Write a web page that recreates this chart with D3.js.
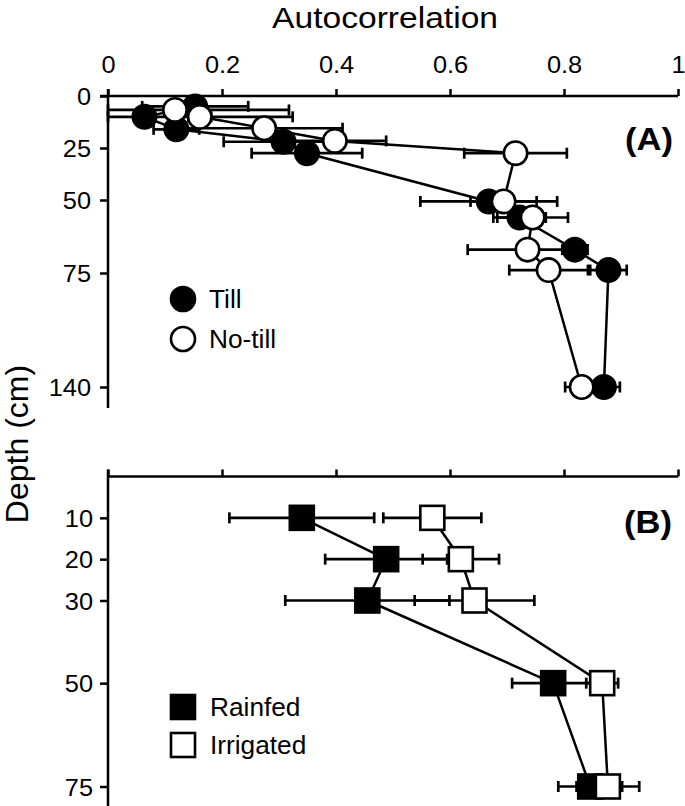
<!DOCTYPE html>
<html><head><meta charset="utf-8">
<script src="https://cdn.jsdelivr.net/npm/d3@7"></script>
<style>body{margin:0;background:#fff} svg{display:block}</style>
</head><body><div id="chart"></div>
<script>
// ---- data ----
const xTicks = [0, 0.2, 0.4, 0.6, 0.8, 1];
const xTickLabels = ["0", "0.2", "0.4", "0.6", "0.8", "1"];

// Panel A
const depthTicksA = [0, 25, 50, 75, 140];
const tillDepth = [5, 10, 16, 22, 27.5, 50.5, 56, 67, 74, 140];
const tillValue = [0.153, 0.064, 0.12, 0.308, 0.349, 0.668, 0.722, 0.819, 0.878, 0.870];
const tillErr = [0.093, 0.26, 0.04, 0.105, 0.097, 0.12, 0.046, 0.022, 0.032, 0.028];
const noTillDepth = [6.7, 10, 15.5, 21.6, 27.5, 50.5, 56, 67, 74, 140];
const noTillValue = [0.1175, 0.161, 0.274, 0.398, 0.715, 0.694, 0.745, 0.736, 0.773, 0.831];
const noTillErr = [0.2, 0.02, 0.1375, 0.09, 0.09, 0.058, 0.062, 0.105, 0.069, 0.029];

// Panel B
const depthTicksB = [10, 20, 30, 50, 75];
const depthB = [10, 20, 30, 50, 75];
const rainfedValue = [0.34, 0.488, 0.455, 0.781, 0.846];
const rainfedErr = [0.127, 0.107, 0.144, 0.072, 0.056];
const irrigatedValue = [0.569, 0.619, 0.643, 0.867, 0.877];
const irrigatedErr = [0.086, 0.067, 0.105, 0.028, 0.055];

// ---- drawing ----
const W = 685, H = 806;
const FONT = "'Liberation Sans', Arial, Helvetica, sans-serif";
const SW = 2.5;
const svg = d3.select("#chart").append("svg").attr("width", W).attr("height", H);

const x = d3.scaleLinear().domain([0, 1]).range([108, 678]);
const yA = d3.scaleLinear().domain(depthTicksA).range([96, 148, 200, 273, 387]);
const yB = d3.scaleLinear().domain([0, 75]).range([476.5, 786.5]);

function stretchText(g, tx, ty, str, size, sx, anchor, weight) {
  return g.append("text")
    .attr("transform", `translate(${tx},${ty}) scale(${sx},1)`)
    .attr("text-anchor", anchor || "start")
    .style("font-family", FONT)
    .style("font-size", size + "px")
    .style("font-weight", weight || "normal")
    .attr("fill", "#000")
    .text(str);
}

function styleAxis(g) {
  g.select(".domain").remove();
  g.selectAll(".tick line").attr("stroke", "#000").attr("stroke-width", SW);
}

// Title
stretchText(svg, x(0.486), 28, "Autocorrelation", 30, 1.12, "middle");

// Depth label
svg.append("text")
  .attr("transform", `translate(28,${444}) rotate(-90)`)
  .attr("text-anchor", "middle")
  .style("font-family", FONT).style("font-size", "32px")
  .text("Depth (cm)");

// ---- Panel A axes ----
const axTopA = svg.append("g").attr("transform", `translate(0,${yA(0)})`)
  .call(d3.axisTop(x).tickValues(xTicks).tickSize(7).tickSizeOuter(0).tickFormat(""));
styleAxis(axTopA);
axTopA.selectAll(".tick").each(function(d, i) {
  stretchText(d3.select(this), 0, -23, xTickLabels[i], 23.5, 1.08, "middle");
});
svg.append("line").attr("x1", x(0) - 8).attr("x2", x(1))
  .attr("y1", yA(0)).attr("y2", yA(0)).attr("stroke", "#000").attr("stroke-width", SW);

const axLeftA = svg.append("g").attr("transform", `translate(${x(0)},0)`)
  .call(d3.axisLeft(yA).tickValues(depthTicksA).tickSize(8).tickFormat(""));
styleAxis(axLeftA);
axLeftA.selectAll(".tick").each(function(d) {
  stretchText(d3.select(this), -17, 8.5, String(d), 23.5, 1.08, "end");
});
svg.append("line").attr("x1", x(0)).attr("x2", x(0))
  .attr("y1", yA(0) - 7).attr("y2", yA(140) + 21).attr("stroke", "#000").attr("stroke-width", SW);

// ---- Panel B axes ----
const axTopB = svg.append("g").attr("transform", `translate(0,${yB(0)})`)
  .call(d3.axisTop(x).tickValues(xTicks).tickSize(7).tickSizeOuter(0).tickFormat(""));
styleAxis(axTopB);
svg.append("line").attr("x1", x(0)).attr("x2", x(1))
  .attr("y1", yB(0)).attr("y2", yB(0)).attr("stroke", "#000").attr("stroke-width", SW);

const axLeftB = svg.append("g").attr("transform", `translate(${x(0)},0)`)
  .call(d3.axisLeft(yB).tickValues(depthTicksB).tickSize(8).tickFormat(""));
styleAxis(axLeftB);
axLeftB.selectAll(".tick").each(function(d) {
  stretchText(d3.select(this), -15, 8.5, String(d), 23.5, 1.08, "end");
});
svg.append("line").attr("x1", x(0)).attr("x2", x(0))
  .attr("y1", yB(0) - 7).attr("y2", H).attr("stroke", "#000").attr("stroke-width", SW);

// Panel labels
stretchText(svg, 673, 150, "(A)", 32, 1.08, "end", "bold");
stretchText(svg, 672, 533, "(B)", 32, 1.08, "end", "bold");

// ---- series helpers ----
function build(depths, values, errs) {
  return depths.map((d, i) => ({ d, v: values[i], e: errs[i] }));
}
const till = build(tillDepth, tillValue, tillErr);
const noTill = build(noTillDepth, noTillValue, noTillErr);
const rainfed = build(depthB, rainfedValue, rainfedErr);
const irrigated = build(depthB, irrigatedValue, irrigatedErr);

function drawLine(data, y) {
  svg.append("path").datum(data)
    .attr("fill", "none").attr("stroke", "#000").attr("stroke-width", SW)
    .attr("d", d3.line().x(p => x(p.v)).y(p => y(p.d)));
}
function drawErr(data, y) {
  const g = svg.append("g").attr("stroke", "#000").attr("stroke-width", 2.7);
  data.forEach(p => {
    const lo = Math.max(0, p.v - p.e), hi = Math.min(1, p.v + p.e);
    const yy = y(p.d);
    g.append("line").attr("x1", x(lo)).attr("x2", x(hi)).attr("y1", yy).attr("y2", yy);
    [lo, hi].forEach(b => {
      g.append("line").attr("x1", x(b)).attr("x2", x(b)).attr("y1", yy - 5.5).attr("y2", yy + 5.5);
    });
  });
}
function drawCircles(data, y, fill) {
  svg.append("g").selectAll("circle").data(data).join("circle")
    .attr("cx", p => x(p.v)).attr("cy", p => y(p.d)).attr("r", 11.7)
    .attr("fill", fill).attr("stroke", "#000").attr("stroke-width", 2.6);
}
function drawSquares(data, y, fill) {
  const s = 24;
  svg.append("g").selectAll("rect").data(data).join("rect")
    .attr("x", p => x(p.v) - s / 2).attr("y", p => y(p.d) - s / 2)
    .attr("width", s).attr("height", s)
    .attr("fill", fill).attr("stroke", "#000").attr("stroke-width", 2.6);
}

// Panel A
drawLine(till, yA);
drawLine(noTill, yA);
drawErr(till, yA);
drawErr(noTill, yA);
drawCircles(till, yA, "#000");
drawCircles(noTill, yA, "#fff");

// Panel B
drawLine(rainfed, yB);
drawLine(irrigated, yB);
drawErr(rainfed, yB);
drawErr(irrigated, yB);
drawSquares(rainfed, yB, "#000");
drawSquares(irrigated, yB, "#fff");

// ---- legends ----
const legA = svg.append("g");
legA.append("circle").attr("cx", 183).attr("cy", 299).attr("r", 12)
  .attr("fill", "#000").attr("stroke", "#000").attr("stroke-width", 2.6);
stretchText(legA, 209, 308, "Till", 25, 1.05, "start");
legA.append("circle").attr("cx", 183).attr("cy", 339).attr("r", 12)
  .attr("fill", "#fff").attr("stroke", "#000").attr("stroke-width", 2.6);
stretchText(legA, 209, 348, "No-till", 25, 1.05, "start");

const legB = svg.append("g");
legB.append("rect").attr("x", 171).attr("y", 695).attr("width", 24).attr("height", 24)
  .attr("fill", "#000").attr("stroke", "#000").attr("stroke-width", 2.6);
stretchText(legB, 210, 716, "Rainfed", 25, 1.05, "start");
legB.append("rect").attr("x", 171).attr("y", 733).attr("width", 24).attr("height", 24)
  .attr("fill", "#fff").attr("stroke", "#000").attr("stroke-width", 2.6);
stretchText(legB, 210, 754, "Irrigated", 25, 1.05, "start");
</script>
</body></html>
